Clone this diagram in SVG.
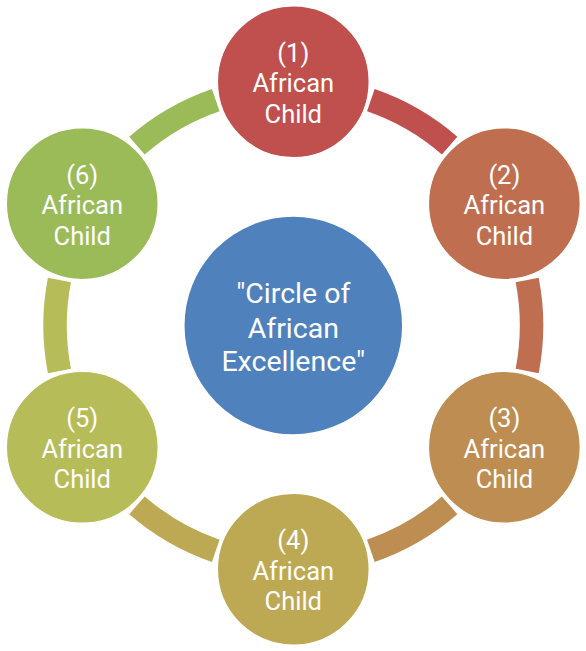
<svg xmlns="http://www.w3.org/2000/svg" width="586" height="651" viewBox="0 0 586 651">
<style>
.node circle{stroke:#FFFFFF;stroke-width:1.5}
.lbl{font-family:Roboto,"Open Sans","DejaVu Sans",sans-serif;font-size:25.5px;fill:#FFFFFF;text-anchor:middle}
.ctr{font-family:Roboto,"Open Sans","DejaVu Sans",sans-serif;font-size:28.5px;fill:#FFFFFF;text-anchor:middle}
</style>
<rect width="586" height="651" fill="#FFFFFF"/>
<g id="connectors">
<path d="M 374.69 89.12 A 250 250 0 0 1 457.32 136.82 L 441.90 154.56 A 226.5 226.5 0 0 0 367.04 111.34 Z" fill="#C0504D"/>
<path d="M 538.71 277.80 A 250 250 0 0 1 538.71 373.20 L 515.64 368.72 A 226.5 226.5 0 0 0 515.64 282.28 Z" fill="#BF6F4F"/>
<path d="M 457.32 514.18 A 250 250 0 0 1 374.69 561.88 L 367.04 539.66 A 226.5 226.5 0 0 0 441.90 496.44 Z" fill="#BE8D52"/>
<path d="M 211.91 561.88 A 250 250 0 0 1 129.28 514.18 L 144.70 496.44 A 226.5 226.5 0 0 0 219.56 539.66 Z" fill="#BDA954"/>
<path d="M 47.89 373.20 A 250 250 0 0 1 47.89 277.80 L 70.96 282.28 A 226.5 226.5 0 0 0 70.96 368.72 Z" fill="#B6BC57"/>
<path d="M 129.28 136.82 A 250 250 0 0 1 211.91 89.12 L 219.56 111.34 A 226.5 226.5 0 0 0 144.70 154.56 Z" fill="#9BBB59"/>
</g>
<g id="center" class="node">
<circle cx="293.3" cy="325.5" r="109.5" fill="#4F81BD"/>
<text class="ctr"><tspan x="293.3" y="303">"Circle of</tspan><tspan x="293.3" y="337.5">African</tspan><tspan x="293.3" y="370.7">Excellence"</tspan></text>
</g>
<g id="node1" class="node">
<circle cx="293.3" cy="81.8" r="76" fill="#C0504D"/>
<text class="lbl"><tspan x="293.3" y="61.8">(1)</tspan><tspan x="293.3" y="92.3">African</tspan><tspan x="293.3" y="122.8">Child</tspan></text>
</g>
<g id="node2" class="node">
<circle cx="504.35" cy="203.65" r="76" fill="#BF6F4F"/>
<text class="lbl"><tspan x="504.35" y="183.65">(2)</tspan><tspan x="504.35" y="214.15">African</tspan><tspan x="504.35" y="244.65">Child</tspan></text>
</g>
<g id="node3" class="node">
<circle cx="504.35" cy="447.35" r="76" fill="#BE8D52"/>
<text class="lbl"><tspan x="504.35" y="427.35">(3)</tspan><tspan x="504.35" y="457.85">African</tspan><tspan x="504.35" y="488.35">Child</tspan></text>
</g>
<g id="node4" class="node">
<circle cx="293.3" cy="569.2" r="76" fill="#BDA954"/>
<text class="lbl"><tspan x="293.3" y="549.2">(4)</tspan><tspan x="293.3" y="579.7">African</tspan><tspan x="293.3" y="610.2">Child</tspan></text>
</g>
<g id="node5" class="node">
<circle cx="82.25" cy="447.35" r="76" fill="#B6BC57"/>
<text class="lbl"><tspan x="82.25" y="427.35">(5)</tspan><tspan x="82.25" y="457.85">African</tspan><tspan x="82.25" y="488.35">Child</tspan></text>
</g>
<g id="node6" class="node">
<circle cx="82.25" cy="203.65" r="76" fill="#9BBB59"/>
<text class="lbl"><tspan x="82.25" y="183.65">(6)</tspan><tspan x="82.25" y="214.15">African</tspan><tspan x="82.25" y="244.65">Child</tspan></text>
</g>
</svg>
